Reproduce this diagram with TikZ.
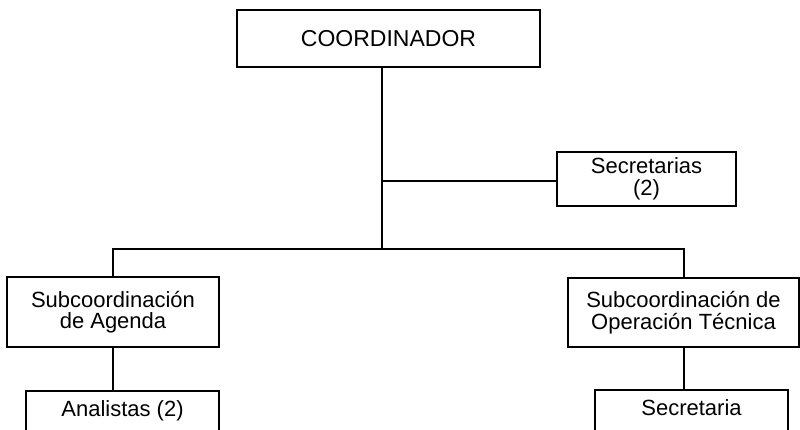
\documentclass[tikz,border=0pt]{standalone}
\usepackage{fontspec}
\setmainfont{Liberation Sans}
\usepackage{tikz}

\begin{document}
\begin{tikzpicture}[x=1pt, y=-1pt,
  every node/.style={font=\fontsize{22}{21.5}\selectfont},
  org/.style ={draw=black, fill=white, align=center, inner sep=0pt, line width=2pt},
  leaf/.style={org, anchor=north, minimum width=193pt,
               text height=16pt, text depth=40pt, inner ysep=9pt},
  link/.style={draw=black, line width=2pt},
]
\useasboundingbox (0,0) rectangle (800,429);
\clip (0,0) rectangle (800,429);
\node[org, minimum width=303pt, minimum height=57pt, font=\fontsize{23}{23}\selectfont]
     (coord) at (388.5,38.5) {COORDINADOR};
\node[org, minimum width=179pt, minimum height=54pt] (secr) at (646.5,179) {Secretarias\\(2)};
\node[org, minimum width=212pt, minimum height=70pt] (agenda) at (113,312)
     {Subcoordinación\\de Agenda};
\node[org, minimum width=231pt, minimum height=69pt] (tecnica) at (683.5,312.5)
     {Subcoordinación de\\Operación Técnica};
\node[leaf] (analistas)  at (122.5,390) {Analistas (2)};
\node[leaf] (secretaria) at (691.5,389) {Secretaria};
\coordinate (trunk) at ([xshift=-6.5pt]coord.south);
\coordinate (bar) at (trunk |- 0,249);
\draw[link] (trunk) -- (bar);
\draw[link] (trunk |- 0,181) -- (secr.west |- 0,181);
\draw[link] (agenda.north) |- (bar) -| (tecnica.north);
\draw[link] (agenda.south) -- (agenda.south |- analistas.north);
\draw[link] (tecnica.south) -- (tecnica.south |- secretaria.north);
\end{tikzpicture}
\end{document}
